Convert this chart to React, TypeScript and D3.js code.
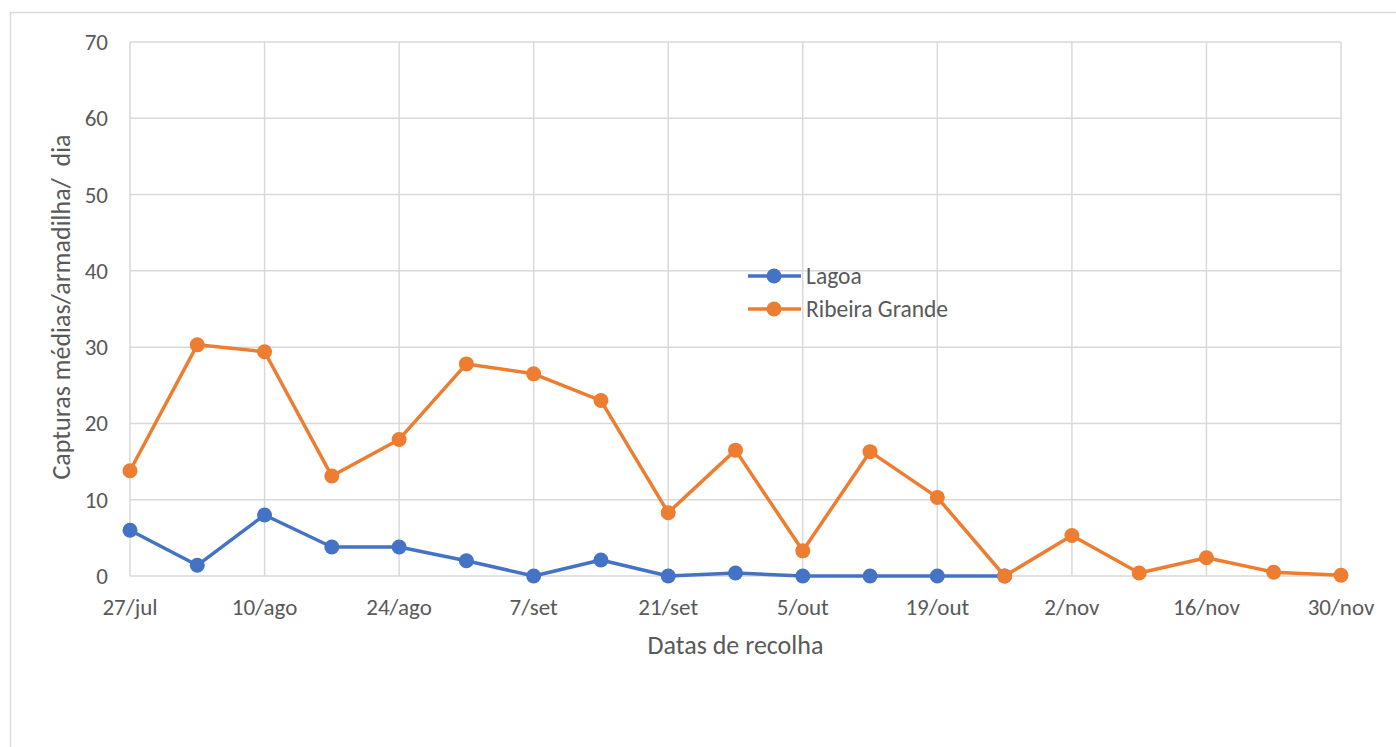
import * as d3 from 'd3';
import { useEffect, useRef } from 'react';

// weekly collection dates
const dates = ['27/jul', '3/ago', '10/ago', '17/ago', '24/ago', '31/ago', '7/set', '14/set', '21/set', '28/set', '5/out', '12/out', '19/out', '26/out', '2/nov', '9/nov', '16/nov', '23/nov', '30/nov'];
const tickLabels = ['27/jul', '10/ago', '24/ago', '7/set', '21/set', '5/out', '19/out', '2/nov', '16/nov', '30/nov'];
const lagoa = [6.0, 1.4, 8.0, 3.8, 3.8, 2.0, 0, 2.1, 0, 0.4, 0, 0, 0, 0];
const ribeiraGrande = [13.8, 30.3, 29.4, 13.1, 17.9, 27.8, 26.5, 23.0, 8.3, 16.5, 3.3, 16.3, 10.3, 0, 5.3, 0.4, 2.4, 0.5, 0.1];
const yTicks = [0, 10, 20, 30, 40, 50, 60, 70];

const W = 1396;
const H = 747;
const FONT = 'Carlito, Calibri, "Open Sans", sans-serif';
const TXT = '#595959';

export default function App() {
  const ref = useRef<SVGSVGElement | null>(null);
  useEffect(() => {
    if (!ref.current) return;
    const svg = d3.select(ref.current);
    svg.selectAll('*').remove();

    const m = { left: 130, right: 1341, top: 42, bottom: 576 };
    const x = d3.scaleLinear().domain([0, dates.length - 1]).range([m.left, m.right]);
    const y = d3.scaleLinear().domain([0, 70]).range([m.bottom, m.top]);

    svg.append('rect').attr('x', 10.5).attr('y', 12.5).attr('width', 1400).attr('height', 760)
      .attr('fill', '#fff').attr('stroke', '#d9d9d9').attr('stroke-width', 1.5);

    // grid
    const g = svg.append('g');
    yTicks.forEach((t) => {
      g.append('line').attr('x1', m.left).attr('x2', m.right).attr('y1', y(t)).attr('y2', y(t))
        .attr('stroke', '#d9d9d9').attr('stroke-width', 1.5);
    });
    tickLabels.forEach((lab) => {
      const i = dates.indexOf(lab);
      g.append('line').attr('x1', x(i)).attr('x2', x(i)).attr('y1', m.top).attr('y2', m.bottom)
        .attr('stroke', '#d9d9d9').attr('stroke-width', 1.5);
    });

    // tick labels
    yTicks.forEach((t) => {
      svg.append('text').attr('x', 108).attr('y', y(t)).attr('dy', '0.35em').attr('text-anchor', 'end')
        .attr('font-family', FONT).attr('font-size', 23).attr('fill', TXT).text(t);
    });
    tickLabels.forEach((lab) => {
      const i = dates.indexOf(lab);
      svg.append('text').attr('x', x(i)).attr('y', 615).attr('text-anchor', 'middle')
        .attr('font-family', FONT).attr('font-size', 23).attr('fill', TXT).text(lab);
    });

    svg.append('text').attr('x', (m.left + m.right) / 2).attr('y', 654).attr('text-anchor', 'middle')
      .attr('font-family', FONT).attr('font-size', 26).attr('fill', TXT).text('Datas de recolha');
    svg.append('text').attr('transform', `translate(70,${(m.top + m.bottom) / 2 - 2}) rotate(-90)`)
      .attr('text-anchor', 'middle').attr('font-family', FONT).attr('font-size', 26).attr('fill', TXT)
      .style('white-space', 'pre')
      .text('Capturas médias/armadilha/  dia');

    const line = d3.line<number>().x((_, i) => x(i)).y((d) => y(d));
    const series = [
      { name: 'Lagoa', values: lagoa, color: '#4472c4' },
      { name: 'Ribeira Grande', values: ribeiraGrande, color: '#ed7d31' },
    ];
    series.forEach((s) => {
      svg.append('path').attr('d', line(s.values) || '').attr('fill', 'none')
        .attr('stroke', s.color).attr('stroke-width', 3.5).attr('stroke-linejoin', 'round');
      svg.append('g').selectAll('circle').data(s.values).join('circle')
        .attr('cx', (_, i) => x(i)).attr('cy', (d) => y(d)).attr('r', 7.5).attr('fill', s.color);
    });

    // legend
    series.forEach((s, i) => {
      const ly = 276 + i * 33;
      svg.append('line').attr('x1', 748).attr('x2', 801).attr('y1', ly).attr('y2', ly)
        .attr('stroke', s.color).attr('stroke-width', 3.5);
      svg.append('circle').attr('cx', 774).attr('cy', ly).attr('r', 7.5).attr('fill', s.color);
      svg.append('text').attr('x', 806).attr('y', ly).attr('dy', '0.35em')
        .attr('font-family', FONT).attr('font-size', 23.5).attr('fill', TXT).text(s.name);
    });
  }, []);

  return (
    <div style={{ position: 'absolute', left: 0, top: 0 }}>
      <svg ref={ref} width={W} height={H} style={{ display: 'block' }} />
    </div>
  );
}
